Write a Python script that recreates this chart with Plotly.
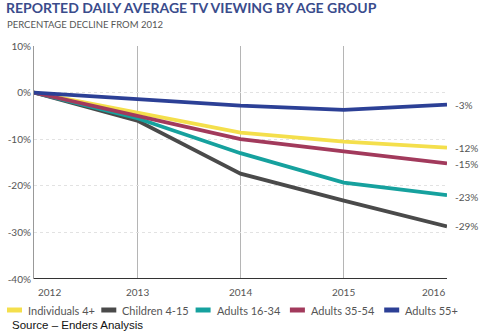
import plotly.graph_objects as go

years = [2012, 2013, 2014, 2015, 2016]
series_names = ["Individuals 4+", "Children 4-15", "Adults 16-34", "Adults 35-54", "Adults 55+"]
individuals = [0, -4.4, -8.6, -10.5, -11.8]
children = [0, -6.0, -17.4, -23.2, -28.7]
adults_16_34 = [0, -5.5, -13.0, -19.3, -22.0]
adults_35_54 = [0, -5.0, -10.0, -12.6, -15.2]
adults_55 = [0, -1.5, -2.8, -3.7, -2.6]
end_labels = ["-12%", "-29%", "-23%", "-15%", "-3%"]
label_y = [-11.8, -28.7, -22.4, -15.4, -2.6]
colors = ["#F4DF4C", "#4A4A4A", "#16A19E", "#A23A5C", "#2C4096"]
y_ticks = [10, 0, -10, -20, -30, -40]

data = [individuals, children, adults_16_34, adults_35_54, adults_55]

FONT = "Lato"
W, H = 494, 335
L, R, T, B = 34, 47, 46, 56
PW, PH = W - L - R, H - T - B


def px_x(px):
    return (px - L) / PW


def px_y(py):
    return 1 - (py - T) / PH


fig = go.Figure()
for name, vals, col in zip(series_names, data, colors):
    fig.add_trace(go.Scatter(x=years, y=vals, mode="lines", name=name,
                             line=dict(color=col, width=3.8), showlegend=False))

for txt, yv in zip(end_labels, label_y):
    fig.add_annotation(x=2016, y=yv, text=txt, showarrow=False, xanchor="left",
                       xshift=6, font=dict(family=FONT, size=10, color="#555555"))

# x tick labels kept inside the plot width (first left-, last right-aligned)
for i, yr in enumerate(years):
    anchor = "left" if i == 0 else ("right" if i == len(years) - 1 else "center")
    fig.add_annotation(x=yr, xref="x", yref="paper", y=px_y(292), text=str(yr),
                       xanchor=anchor, yanchor="middle", showarrow=False,
                       xshift=2 if i == 0 else 0,
                       font=dict(family=FONT, size=10, color="#555555"))

# custom legend (rectangular swatches)
for i, (name, col) in enumerate(zip(series_names, colors)):
    x0 = 7 + i * 94.3
    fig.add_shape(type="rect", xref="paper", yref="paper",
                  x0=px_x(x0), x1=px_x(x0 + 15), y0=px_y(312.5), y1=px_y(307.5),
                  fillcolor=col, line=dict(width=0))
    fig.add_annotation(text=name, xref="paper", yref="paper", x=px_x(x0 + 19), y=px_y(310.5),
                       xanchor="left", yanchor="middle", showarrow=False,
                       font=dict(family=FONT, size=11, color="#555555"))

fig.update_xaxes(range=[2012, 2016], tickvals=years, showticklabels=False,
                 showgrid=True, gridcolor="#B5B5B5", gridwidth=1, zeroline=False,
                 showline=False, ticks="")
fig.update_yaxes(range=[-40, 10], tickvals=y_ticks, ticktext=[f"{v}%" for v in y_ticks],
                 showgrid=True, gridcolor="#E2E2E2", griddash="dot", zeroline=False,
                 showline=True, linecolor="#999999", linewidth=1,
                 tickfont=dict(family=FONT, size=10, color="#555555"), ticks="")

fig.add_shape(type="line", xref="paper", yref="y", x0=0, x1=1, y0=-40, y1=-40,
              line=dict(color="#333333", width=2))

fig.update_layout(
    width=W, height=H, margin=dict(l=L, r=R, t=T, b=B, autoexpand=False),
    plot_bgcolor="white", paper_bgcolor="white",
    font=dict(family=FONT),
    showlegend=False,
    title=dict(text="<b>REPORTED DAILY AVERAGE TV VIEWING BY AGE GROUP</b>",
               xref="container", yref="container",
               x=0.012, xanchor="left", y=0.99, yanchor="top",
               font=dict(family=FONT, size=14, color="#3A4C8C")),
)
fig.add_annotation(text="PERCENTAGE DECLINE FROM 2012", xref="paper", yref="paper",
                   x=px_x(5), y=px_y(24), xanchor="left", yanchor="middle", showarrow=False,
                   font=dict(family=FONT, size=9.5, color="#555555"))
fig.add_annotation(text="Source – Enders Analysis", xref="paper", yref="paper",
                   x=px_x(10), y=px_y(325), xanchor="left", yanchor="middle", showarrow=False,
                   font=dict(family="Liberation Sans", size=11.5, color="#111111"))

fig.write_html("out.html")
